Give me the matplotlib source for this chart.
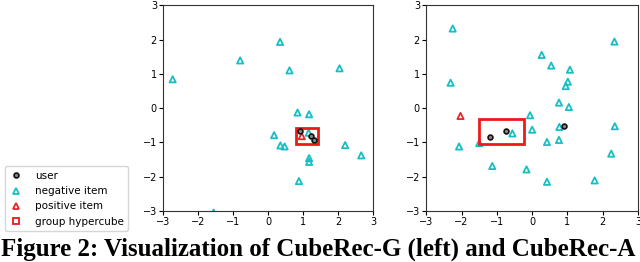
import matplotlib.pyplot as plt
from matplotlib.patches import Rectangle
from matplotlib.lines import Line2D

# CubeRec-G (left)
g_neg_x = [-2.73, -0.80, 0.34, 0.61, 2.04, 0.84, 1.17, 0.17, 0.35, 0.47, 1.16, 1.17, 1.17, 0.88, -1.56, 2.20, 2.66]
g_neg_y = [0.84, 1.39, 1.93, 1.10, 1.16, -0.13, -0.18, -0.79, -1.09, -1.12, -0.72, -1.46, -1.57, -2.13, -3.05, -1.08, -1.38]
g_pos_x = [0.96]
g_pos_y = [-0.82]
g_user_x = [0.91, 1.22, 1.31]
g_user_y = [-0.68, -0.82, -0.92]
g_box = (0.80, -1.04, 1.42, -0.57)  # xmin, ymin, xmax, ymax

# CubeRec-A (right)
a_neg_x = [-2.25, -2.31, -2.07, -1.50, -0.56, -1.13, -0.16, -0.06, 0.00, 0.27, 0.54, 1.07, 1.01, 0.95, 0.76, 1.04,
           0.77, 0.76, 0.42, 0.42, 1.77, 2.24, 2.34, 2.33]
a_neg_y = [2.32, 0.74, -1.12, -1.02, -0.74, -1.69, -1.79, -0.21, -0.63, 1.55, 1.24, 1.12, 0.77, 0.64, 0.16, 0.03,
           -0.55, -0.93, -0.99, -2.15, -2.11, -1.33, -0.53, 1.94]
a_pos_x = [-2.03]
a_pos_y = [-0.23]
a_user_x = [-1.18, -0.73, 0.91]
a_user_y = [-0.84, -0.68, -0.53]
a_box = (-1.51, -1.06, -0.23, -0.32)

ticks = [-3, -2, -1, 0, 1, 2, 3]

fig = plt.figure(figsize=(6.4, 2.62), dpi=100)
ax1 = fig.add_axes([0.255, 0.195, 0.328, 0.785])
ax2 = fig.add_axes([0.666, 0.195, 0.331, 0.785])


def draw(ax, nx, ny, px, py, ux, uy, box):
    ax.scatter(nx, ny, marker='^', s=20, facecolors='none', edgecolors='#17bfc4', linewidths=1.3, zorder=2)
    ax.scatter(px, py, marker='^', s=20, facecolors='none', edgecolors='#e8262a', linewidths=1.3, zorder=2)
    ax.scatter(ux, uy, marker='o', s=12, facecolors='#888888', edgecolors='#111111', linewidths=1.2, zorder=4)
    ax.add_patch(Rectangle((box[0], box[1]), box[2] - box[0], box[3] - box[1], fill=False,
                           edgecolor='#f01818', linewidth=2, zorder=3))
    ax.set_xlim(-3, 3)
    ax.set_ylim(-3, 3)
    ax.set_xticks(ticks)
    ax.set_yticks(ticks)
    ax.tick_params(labelsize=7, length=3, pad=1.5)
    for s in ax.spines.values():
        s.set_color('#333333')


draw(ax1, g_neg_x, g_neg_y, g_pos_x, g_pos_y, g_user_x, g_user_y, g_box)
draw(ax2, a_neg_x, a_neg_y, a_pos_x, a_pos_y, a_user_x, a_user_y, a_box)

handles = [
    Line2D([], [], ls='', marker='o', ms=3.5, mfc='#888888', mec='#111111', mew=1.2),
    Line2D([], [], ls='', marker='^', ms=4.5, mfc='none', mec='#17bfc4', mew=1.3),
    Line2D([], [], ls='', marker='^', ms=4.5, mfc='none', mec='#e8262a', mew=1.3),
    Line2D([], [], ls='', marker='s', ms=4.5, mfc='none', mec='#f01818', mew=1.3),
]
labels = ['user', 'negative item', 'positive item', 'group hypercube']
fig.legend(handles, labels, loc='upper left', bbox_to_anchor=(0.0, 0.385), fontsize=7.5,
           handletextpad=1.2, labelspacing=0.5, borderpad=0.45, handlelength=1.2, frameon=True)

fig.text(0.002, 0.024, 'Figure 2: Visualization of CubeRec-G (left) and CubeRec-A',
         family='Liberation Serif', weight='bold', fontsize=18, va='baseline', ha='left')

fig.savefig('out.png', dpi=100)
